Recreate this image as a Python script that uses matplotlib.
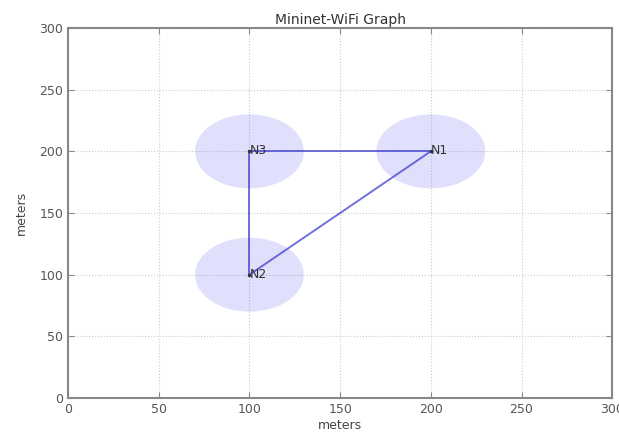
import matplotlib
matplotlib.use("Agg")
import matplotlib.pyplot as plt
from matplotlib.patches import Circle

names = ["N1", "N2", "N3"]
xs = [200, 100, 100]
ys = [200, 100, 200]
ranges = [30, 30, 30]
links = [("N3", "N1"), ("N3", "N2"), ("N2", "N1")]
ticks = [0, 50, 100, 150, 200, 250, 300]

fig = plt.figure(figsize=(6.19, 4.44), dpi=100)
ax = fig.add_axes([0.110, 0.1036, 0.879, 0.8334])
ax.set_xlim(0, 300)
ax.set_ylim(0, 300)

pos = {n: (x, y) for n, x, y in zip(names, xs, ys)}
for a, b in links:
    ax.plot([pos[a][0], pos[b][0]], [pos[a][1], pos[b][1]], color="#3333cc", alpha=0.7, lw=1.4, zorder=3)

for n, x, y, r in zip(names, xs, ys, ranges):
    ax.add_patch(Circle((x, y), r, color="#3333ee", alpha=0.15, lw=0, zorder=2))
    ax.plot([x], [y], marker=".", color="#333333", ms=3, zorder=4)
    ax.text(x, y - 5, n, fontsize=9, color="#333333", ha="left", va="bottom", zorder=5)

ax.set_xticks(ticks)
ax.set_yticks(ticks)
ax.tick_params(direction="in", top=True, right=True, labelsize=9, labelcolor="#555555", color="#888888", length=4)
ax.grid(True, linestyle=":", color="#cccccc", lw=0.8)
for s in ax.spines.values():
    s.set_color("#888888")
    s.set_linewidth(1.5)
ax.set_title("Mininet-WiFi Graph", fontsize=10, color="#333333", pad=3)
ax.set_xlabel("meters", fontsize=9, color="#444444", labelpad=2)
ax.set_ylabel("meters", fontsize=9, color="#444444", labelpad=8)

fig.savefig("out.png", dpi=100)
